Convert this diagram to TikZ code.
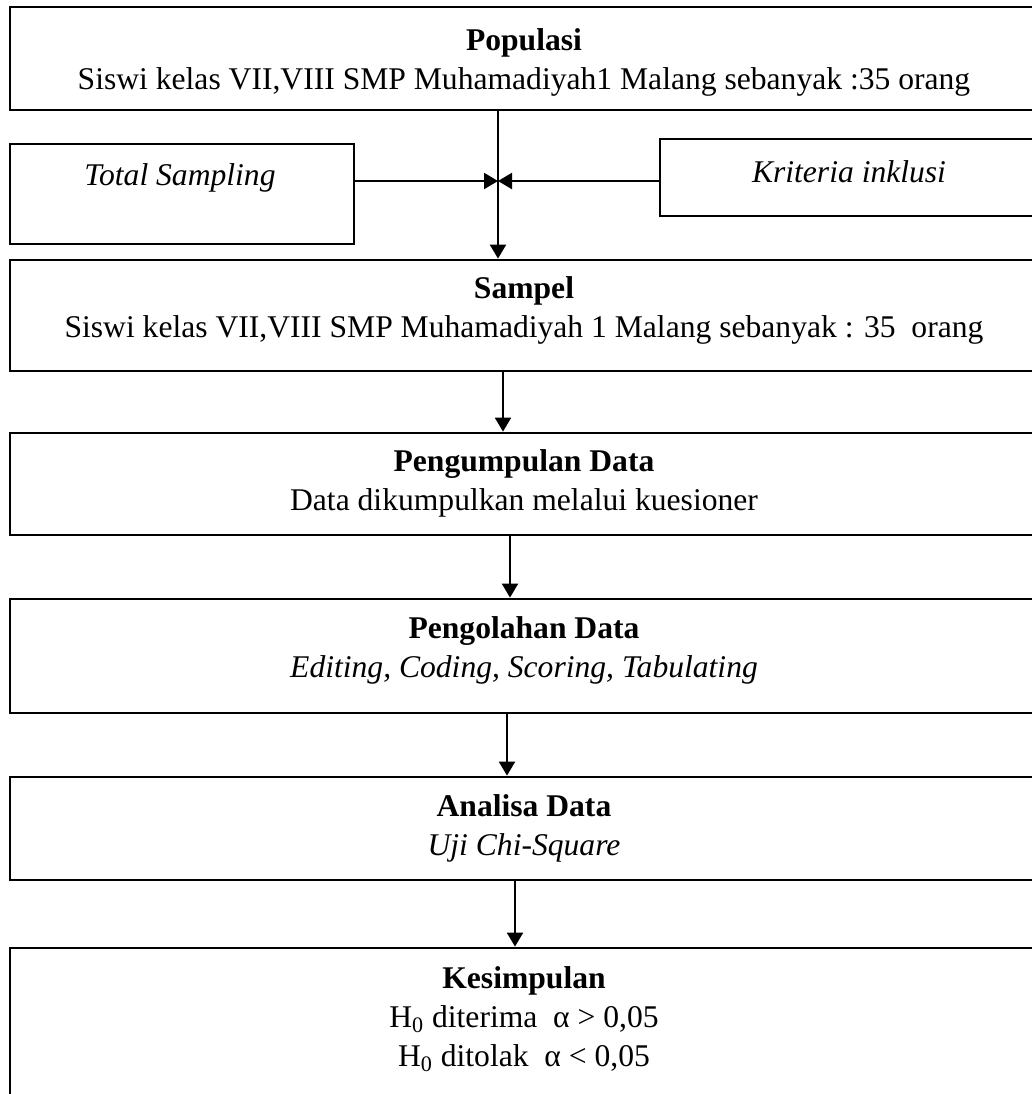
\documentclass[tikz,border=0pt]{standalone}
\usepackage{fontspec}
\setmainfont{Liberation Serif}
\usetikzlibrary{arrows.meta}
\begin{document}
\begin{tikzpicture}[x=0.5pt,y=-0.5pt,
  bigbox/.style={draw, line width=1.4pt, rectangle, minimum width=514pt, inner sep=0pt},
  smallbox/.style={draw, line width=1.1pt, rectangle, inner sep=0pt},
  txt/.style={align=center, inner sep=0pt, font=\fontsize{15.8pt}{19.5pt}\selectfont},
  arr/.style={line width=1.1pt, -{Triangle[length=7pt,width=8pt]}}]
\useasboundingbox (0,0) rectangle (1032,1094);
\clip (0,0) rectangle (1032,1094);
% boxes
\node[bigbox, minimum height=51.5pt] (pop) at (524,58.5) {};
\node[smallbox, minimum width=172pt, minimum height=50pt] (ts) at (182,194) {};
\node[smallbox, minimum width=190pt, minimum height=38.5pt] (ki) at (850,177.5) {};
\node[bigbox, minimum height=55.5pt] (samp) at (524,315.5) {};
\node[bigbox, minimum height=51pt] (peng) at (524,484) {};
\node[bigbox, minimum height=57pt] (olah) at (524,656) {};
\node[bigbox, minimum height=51.5pt] (anal) at (524,828.5) {};
\node[bigbox, minimum height=106pt] (kes) at (524,1054) {};
% texts
\node[txt] (popT) at (524,62) {\textbf{Populasi}\\Siswi kelas VII,VIII SMP Muhamadiyah1 Malang sebanyak :35 orang};
\node[txt] (tsT) at (180,178) {\itshape Total Sampling};
\node[txt] (kiT) at (849,172) {\itshape Kriteria inklusi};
\node[txt] (sampT) at (524,310) {\textbf{Sampel}\\Siswi kelas VII,VIII SMP Muhamadiyah 1 Malang sebanyak : 35\ \ orang};
\node[txt] (pengT) at (524,483) {\textbf{Pengumpulan Data}\\Data dikumpulkan melalui kuesioner};
\node[txt] (olahT) at (524,650) {\textbf{Pengolahan Data}\\\itshape Editing, Coding, Scoring, Tabulating};
\node[txt] (analT) at (524,828) {\textbf{Analisa Data}\\\itshape Uji Chi-Square};
\node[txt] (kesT) at (524,1019) {\textbf{Kesimpulan}\\H\textsubscript{0} diterima\ \ α > 0,05\\H\textsubscript{0} ditolak\ \ α < 0,05};
% connectors
\coordinate (j) at (498,181);
\coordinate (c1) at (503,0);
\coordinate (c2) at (510,0);
\coordinate (c3) at (507,0);
\coordinate (c4) at (515,0);
\draw[arr] (pop.south -| j) -- (samp.north -| j);
\draw[arr] (ts.east |- j) -- (j);
\draw[arr] (ki.west |- j) -- (j);
\draw[arr] (samp.south -| c1) -- (peng.north -| c1);
\draw[arr] (peng.south -| c2) -- (olah.north -| c2);
\draw[arr] (olah.south -| c3) -- (anal.north -| c3);
\draw[arr] (anal.south -| c4) -- (kes.north -| c4);
\end{tikzpicture}
\end{document}
